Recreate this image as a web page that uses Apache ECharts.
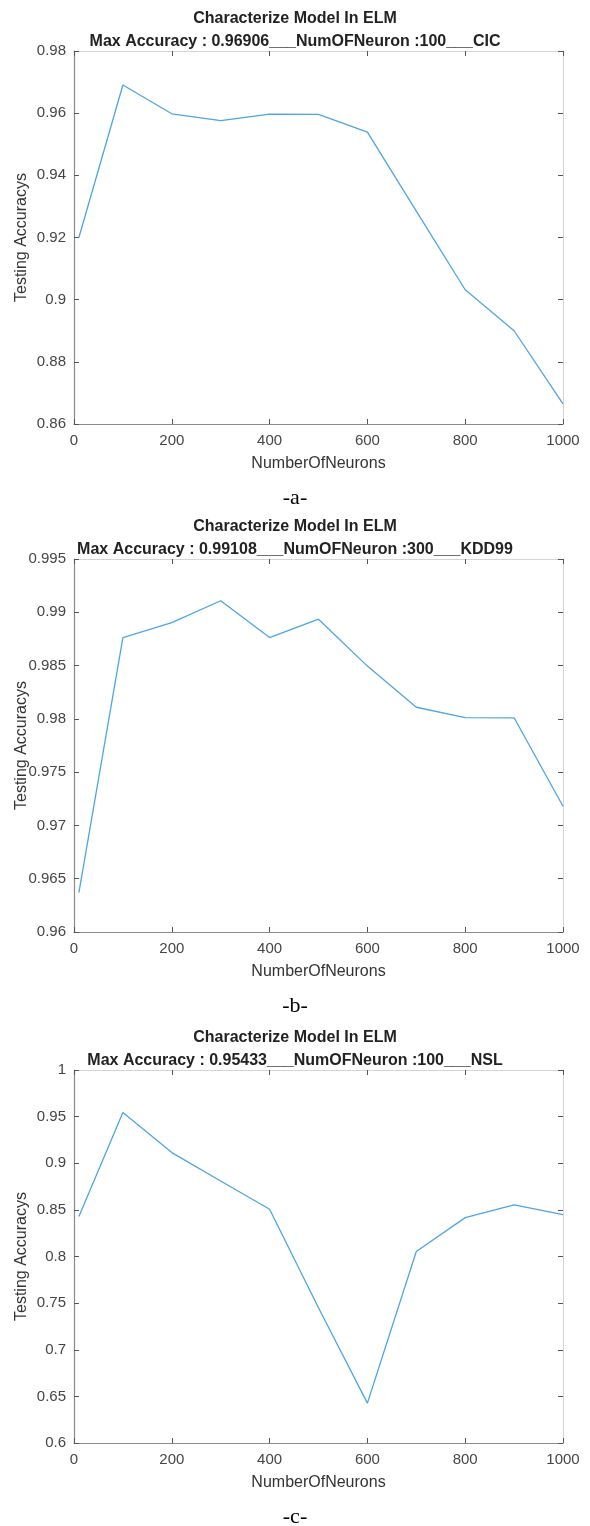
<!DOCTYPE html>
<html>
<head>
<meta charset="utf-8">
<script src="https://cdn.jsdelivr.net/npm/echarts@6/dist/echarts.min.js"></script>
<style>
html,body{margin:0;padding:0;background:#fff;}
#c{width:590px;height:1526px;}
</style>
</head>
<body>
<div id="c"></div>
<script>
var neurons = [10, 100, 200, 300, 400, 500, 600, 700, 800, 900, 1000];
var accCIC = [0.920, 0.96906, 0.9598, 0.9576, 0.9597, 0.9596, 0.9539, 0.9285, 0.9032, 0.8900, 0.8665];
var accKDD = [0.9637, 0.98763, 0.98903, 0.99108, 0.98763, 0.98935, 0.98495, 0.98109, 0.98012, 0.98010, 0.9718];
var accNSL = [0.8428, 0.95433, 0.9114, 0.881, 0.8507, 0.745, 0.6428, 0.8053, 0.8417, 0.8553, 0.845];
var titleLine1 = 'Characterize Model In ELM';
var titleLine2 = ['Max Accuracy : 0.96906___NumOFNeuron :100___CIC',
                  'Max Accuracy : 0.99108___NumOFNeuron :300___KDD99',
                  'Max Accuracy : 0.95433___NumOFNeuron :100___NSL'];
var panelLabels = ['-a-', '-b-', '-c-'];
var yRanges = [[0.86, 0.98, 0.02], [0.96, 0.995, 0.005], [0.6, 1, 0.05]];
var xTicks = [0, 1000, 200];
var xName = 'NumberOfNeurons';
var yName = 'Testing Accuracys';

var series = [accCIC, accKDD, accNSL];
var tops = [51, 559, 1070];
var plotH = 373;
var gridLeft = 74, gridRight = 27;
var lineColor = '#4FA5DF';
var font = 'Liberation Sans, Arial, Helvetica, sans-serif';

var opt = {
  animation: false,
  backgroundColor: '#fff',
  title: [], grid: [], xAxis: [], yAxis: [], series: []
};
for (var i = 0; i < 3; i++) {
  var t = tops[i];
  opt.title.push({text: titleLine1, left: 'center', top: t - 45,
    textStyle: {fontFamily: font, fontSize: 16, fontWeight: 'bold', color: '#222'}});
  opt.title.push({text: titleLine2[i], left: 'center', top: t - 22,
    textStyle: {fontFamily: font, fontSize: 16, fontWeight: 'bold', color: '#222'}});
  opt.title.push({text: panelLabels[i], left: 'center', top: t + plotH + 58,
    textStyle: {fontFamily: 'Liberation Serif, Times New Roman, serif', fontSize: 22, fontWeight: 'normal', color: '#000'}});
  opt.grid.push({left: gridLeft, right: gridRight, top: t, height: plotH,
    containLabel: false, outerBoundsMode: 'none'});
  var axisText = {fontFamily: font, fontSize: 15, color: '#454545'};
  opt.xAxis.push({type: 'value', gridIndex: i, min: xTicks[0], max: xTicks[1], interval: xTicks[2],
    position: 'bottom', name: xName, nameLocation: 'middle', nameGap: 32, nameMoveOverlap: false,
    nameTextStyle: {fontFamily: font, fontSize: 16, color: '#333'},
    axisLine: {show: true, onZero: false, lineStyle: {color: '#8a8a8a', width: 1.2}},
    axisTick: {show: true, inside: true, length: 5, lineStyle: {color: '#555'}},
    axisLabel: Object.assign({margin: 9, formatter: function (v) { return String(v); }}, axisText),
    splitLine: {show: false}});
  opt.xAxis.push({type: 'value', gridIndex: i, min: xTicks[0], max: xTicks[1], interval: xTicks[2],
    position: 'top',
    axisLine: {show: true, onZero: false, lineStyle: {color: '#d4d4d4', width: 1}},
    axisTick: {show: true, inside: true, length: 5, lineStyle: {color: '#555'}},
    axisLabel: {show: false}, splitLine: {show: false}});
  var yr = yRanges[i];
  opt.yAxis.push({type: 'value', gridIndex: i, min: yr[0], max: yr[1], interval: yr[2],
    position: 'left', name: yName, nameLocation: 'middle', nameGap: 44, nameMoveOverlap: false,
    nameTextStyle: {fontFamily: font, fontSize: 16, color: '#333'},
    axisLine: {show: true, onZero: false, lineStyle: {color: '#8a8a8a', width: 1.2}},
    axisTick: {show: true, inside: true, length: 5, lineStyle: {color: '#555'}},
    axisLabel: Object.assign({margin: 8, formatter: function (v) { return String(+v.toFixed(4)); }}, axisText),
    splitLine: {show: false}});
  opt.yAxis.push({type: 'value', gridIndex: i, min: yr[0], max: yr[1], interval: yr[2],
    position: 'right',
    axisLine: {show: true, onZero: false, lineStyle: {color: '#d4d4d4', width: 1}},
    axisTick: {show: true, inside: true, length: 5, lineStyle: {color: '#555'}},
    axisLabel: {show: false}, splitLine: {show: false}});
  var data = neurons.map(function (n, k) { return [n, series[i][k]]; });
  opt.series.push({type: 'line', xAxisIndex: 2 * i, yAxisIndex: 2 * i, data: data,
    showSymbol: false, symbol: 'none', lineStyle: {color: lineColor, width: 1.3}, silent: true});
}
var chart = echarts.init(document.getElementById('c'), null, {renderer: 'canvas'});
chart.setOption(opt);
</script>
</body>
</html>
